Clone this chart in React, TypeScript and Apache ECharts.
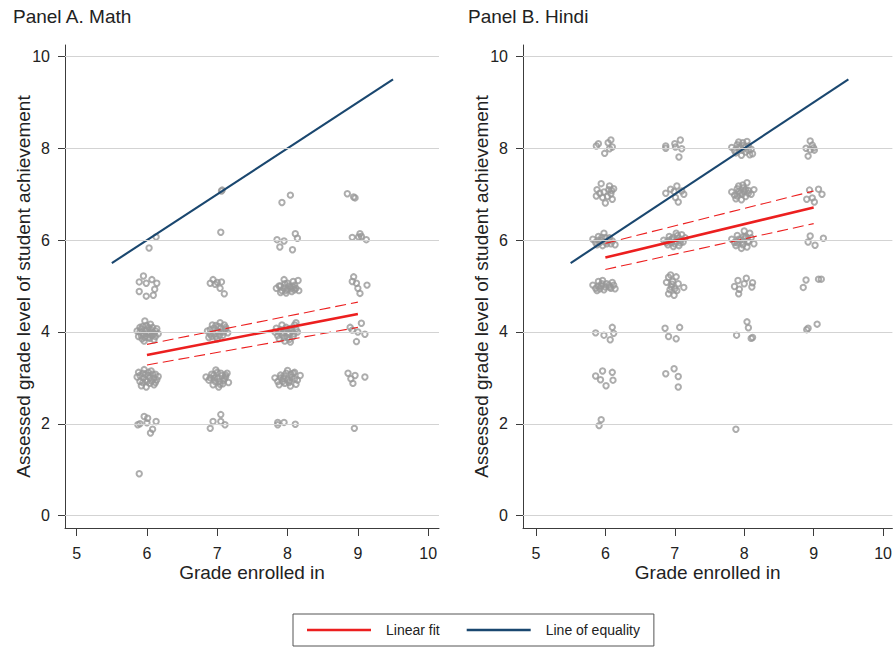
import React, { useEffect, useRef } from "react";
import * as echarts from "echarts";

const FONT = "'Liberation Sans', Arial, Helvetica, sans-serif";

const xTicks = [5, 6, 7, 8, 9, 10];
const yTicks = [0, 2, 4, 6, 8, 10];

// Panel A. Math: [grade enrolled, assessed level]
const mathG6 = [
  [6.03, 5.83], [6.13, 6.07],
  [5.95, 5.22], [5.89, 5.09], [5.99, 5.06], [6.07, 5.14], [6.14, 5.06], [6.11, 4.93], [5.89, 4.88], [5.99, 4.78], [6.09, 4.8],
  [5.97, 4.24], [5.86, 4.02], [5.9, 4.1], [5.95, 3.95], [6.0, 4.05], [6.04, 3.98], [6.08, 4.1], [6.12, 4.02], [6.16, 3.96], [5.88, 3.9],
  [5.93, 3.85], [6.02, 3.88], [6.07, 3.92], [6.1, 3.83], [5.99, 4.14], [6.05, 4.17], [5.92, 4.06], [6.14, 4.07], [5.96, 3.8], [6.03, 3.94],
  [5.9, 4.0], [5.94, 4.12], [5.98, 4.02], [6.02, 4.1], [6.06, 4.04], [6.1, 3.96], [5.92, 3.92], [5.97, 3.88], [6.04, 3.86], [6.12, 3.9],
  [6.0, 3.97], [6.08, 3.98],
  [5.86, 3.02], [5.9, 2.92], [5.94, 3.1], [5.98, 2.95], [6.02, 3.05], [6.06, 3.15], [6.1, 3.0], [6.14, 2.96], [5.92, 2.83], [5.99, 2.8],
  [6.04, 2.88], [6.12, 3.08], [5.96, 3.18], [6.07, 2.93], [6.16, 3.03], [5.88, 3.12],
  [5.9, 3.05], [5.95, 3.0], [6.0, 2.92], [6.04, 3.0], [6.08, 3.08], [6.12, 2.9], [5.94, 2.9], [6.02, 3.12], [6.1, 2.85], [5.98, 3.08],
  [5.96, 2.16], [5.9, 2.0], [5.87, 1.98], [6.01, 2.12], [6.13, 2.05], [6.08, 1.88], [6.05, 1.8], [6.0, 2.02],
  [5.89, 0.91],
];
const mathG7 = [
  [7.06, 7.07], [7.07, 7.09], [7.05, 6.17],
  [6.9, 5.06], [6.94, 5.14], [7.0, 5.08], [7.06, 5.09], [7.04, 4.95], [7.1, 4.83], [6.97, 5.04],
  [6.86, 4.02], [6.9, 3.95], [6.95, 4.08], [6.98, 3.9], [7.02, 4.12], [7.05, 4.0], [7.08, 3.93], [7.12, 4.06], [7.15, 3.98], [6.93, 4.15],
  [7.0, 3.85], [7.1, 4.15], [6.88, 3.88], [7.04, 4.2],
  [6.9, 4.05], [6.95, 3.96], [7.0, 4.02], [7.05, 4.08], [7.09, 4.0], [6.98, 4.14], [7.03, 3.92], [6.92, 3.9], [7.12, 4.1],
  [6.84, 3.02], [6.88, 2.95], [6.92, 3.08], [6.96, 3.0], [7.0, 3.12], [7.03, 2.92], [7.07, 3.05], [7.1, 2.98], [7.14, 3.1], [7.16, 2.9],
  [6.94, 2.85], [7.02, 2.8], [7.08, 2.87], [6.98, 3.17], [7.12, 3.02],
  [6.9, 3.0], [6.95, 3.06], [7.0, 2.98], [7.05, 3.1], [7.09, 2.94], [6.97, 2.92], [7.04, 2.86], [7.12, 3.06],
  [7.05, 2.2], [6.94, 2.05], [6.9, 1.9], [7.05, 2.05], [7.11, 1.98],
];
const mathG8 = [
  [8.04, 6.98], [7.92, 6.82],
  [7.85, 6.01], [7.95, 5.98], [7.89, 5.85], [8.07, 5.79], [8.11, 6.14], [8.14, 6.04],
  [7.84, 4.95], [7.88, 5.0], [7.92, 4.9], [7.96, 5.05], [8.0, 4.93], [8.04, 4.98], [8.08, 5.1], [8.12, 4.95], [8.15, 5.12], [7.9, 4.86],
  [7.98, 4.85], [8.06, 4.88], [8.1, 4.92], [7.95, 5.14], [8.02, 5.0], [8.16, 4.9],
  [7.9, 5.0], [7.95, 4.96], [8.0, 5.06], [8.05, 4.94], [8.1, 5.02], [7.98, 4.9], [8.08, 4.98],
  [7.82, 4.0], [7.86, 3.92], [7.9, 4.05], [7.94, 3.98], [7.98, 4.1], [8.02, 3.95], [8.06, 4.02], [8.1, 4.15], [8.14, 4.0], [7.88, 3.85],
  [7.96, 3.8], [8.0, 3.88], [8.04, 3.78], [8.08, 3.9], [7.92, 4.15], [8.12, 4.2], [7.84, 4.08], [8.02, 4.06],
  [7.88, 4.0], [7.92, 3.94], [7.97, 4.04], [8.01, 3.98], [8.05, 4.08], [8.09, 3.96], [7.95, 3.88], [8.03, 3.84], [8.12, 4.06],
  [7.82, 3.0], [7.86, 2.92], [7.9, 3.06], [7.94, 2.98], [7.98, 3.1], [8.02, 2.9], [8.06, 3.02], [8.1, 3.12], [8.14, 2.95], [8.18, 3.05],
  [7.88, 2.85], [7.96, 2.88], [8.04, 2.82], [8.12, 2.86], [8.0, 3.16],
  [7.9, 3.0], [7.95, 3.04], [8.0, 2.96], [8.05, 3.08], [8.1, 2.98], [7.93, 2.92], [8.03, 2.94], [8.08, 3.1],
  [7.86, 2.03], [7.86, 1.98], [7.95, 2.03], [8.11, 1.99],
];
const mathG9 = [
  [8.85, 7.01], [8.94, 6.94], [8.96, 6.92],
  [8.92, 6.06], [9.03, 6.14], [9.05, 6.08], [9.12, 6.01], [9.01, 6.07],
  [8.94, 5.2], [8.98, 5.06], [9.0, 4.95], [9.03, 4.84], [9.13, 5.02], [8.92, 5.1],
  [8.89, 4.1], [9.05, 4.19], [9.0, 4.0], [9.1, 3.95], [8.98, 3.79], [8.92, 4.04],
  [8.86, 3.1], [8.9, 2.98], [8.93, 2.88], [8.96, 3.05], [9.1, 3.02],
  [8.95, 1.9],
];

// Panel B. Hindi
const hindiG6 = [
  [5.87, 8.05], [5.9, 8.1], [5.99, 7.89], [6.06, 7.99], [6.08, 8.18], [6.1, 8.03], [6.04, 8.12],
  [5.94, 7.23], [5.88, 7.1], [5.87, 6.96], [5.96, 6.93], [6.06, 7.18], [6.09, 7.08], [6.1, 6.89], [6.0, 6.81], [6.08, 7.01], [6.12, 7.12],
  [5.98, 7.05], [6.03, 6.95], [5.92, 7.02], [6.05, 7.1],
  [5.82, 6.02], [5.86, 5.95], [5.9, 6.08], [5.94, 6.0], [5.98, 6.15], [6.02, 5.92], [6.06, 6.05], [6.1, 5.98], [6.14, 5.9], [5.88, 5.9],
  [5.96, 5.88], [6.0, 6.06], [5.9, 6.0], [5.95, 6.06], [6.0, 5.96], [6.05, 6.0], [6.08, 5.92], [5.92, 5.94],
  [5.82, 5.02], [5.86, 4.95], [5.9, 5.1], [5.94, 5.0], [5.98, 4.92], [6.02, 5.05], [6.06, 4.98], [6.1, 5.08], [6.14, 4.94], [5.88, 4.9],
  [5.96, 5.12], [6.12, 5.02], [5.9, 5.0], [5.95, 5.05], [6.0, 4.98], [6.05, 5.02], [6.08, 4.95], [5.92, 4.94],
  [5.86, 3.98], [5.98, 3.93], [6.1, 4.1], [6.12, 3.97], [6.07, 3.83],
  [5.86, 3.04], [5.96, 3.15], [5.93, 2.96], [6.01, 2.83], [6.1, 3.12], [6.11, 2.95],
  [5.94, 2.09], [5.91, 1.96],
];
const hindiG7 = [
  [6.87, 8.05], [6.87, 8.0], [7.01, 8.03], [7.08, 8.18], [7.1, 7.99], [7.06, 7.81], [7.0, 8.1],
  [6.87, 7.02], [6.94, 7.11], [7.03, 7.18], [7.1, 7.07], [7.13, 7.0], [7.01, 6.93], [7.05, 6.83], [6.99, 7.06],
  [6.84, 6.0], [6.88, 5.95], [6.92, 6.08], [6.96, 6.02], [7.0, 5.92], [7.04, 6.1], [7.08, 6.0], [7.12, 5.96], [7.15, 6.05], [6.9, 5.9],
  [6.98, 5.86], [7.06, 5.88], [7.02, 6.15], [7.1, 6.12],
  [6.92, 6.0], [6.97, 6.05], [7.02, 5.98], [7.06, 6.04], [6.95, 5.94], [7.08, 5.94],
  [6.91, 5.19], [6.94, 5.24], [6.88, 5.08], [6.97, 5.1], [7.02, 5.2], [7.05, 5.05], [6.95, 4.98], [7.13, 4.97], [6.99, 4.8], [6.91, 4.83],
  [7.03, 4.9], [6.96, 5.04], [7.0, 4.94], [6.93, 4.92],
  [6.86, 4.08], [7.07, 4.1], [6.91, 3.9], [7.02, 3.85],
  [6.87, 3.09], [6.99, 3.2], [7.05, 3.03], [7.05, 2.8],
];
const hindiG8 = [
  [7.82, 8.02], [7.86, 7.95], [7.9, 8.08], [7.94, 8.0], [7.98, 8.12], [8.02, 7.92], [8.06, 8.05], [8.1, 7.98], [8.12, 7.88], [7.88, 7.9],
  [7.96, 7.85], [8.04, 8.15], [8.08, 7.86], [7.92, 8.14],
  [7.92, 8.02], [7.97, 7.96], [8.02, 8.04], [8.06, 7.96], [7.99, 8.06],
  [7.82, 7.05], [7.86, 6.98], [7.9, 7.12], [7.94, 7.02], [7.98, 7.2], [8.02, 6.95], [8.06, 7.08], [8.1, 7.0], [8.14, 7.1], [7.88, 6.9],
  [7.96, 6.88], [8.04, 7.25], [8.0, 7.06], [7.92, 7.18],
  [7.92, 7.06], [7.97, 7.0], [8.02, 7.1], [8.06, 7.02], [7.99, 7.14], [7.9, 6.96],
  [7.82, 6.02], [7.86, 5.95], [7.9, 6.1], [7.94, 6.0], [7.98, 5.9], [8.02, 6.08], [8.06, 5.98], [8.1, 6.05], [8.14, 5.92], [7.88, 5.88],
  [7.96, 5.82], [8.04, 5.85], [8.0, 6.2], [8.08, 6.15],
  [7.92, 6.02], [7.97, 5.96], [8.02, 6.04], [8.06, 5.96], [7.99, 6.08], [7.9, 5.94],
  [7.91, 5.12], [8.03, 5.17], [8.12, 5.07], [8.11, 4.98], [7.86, 4.99], [7.93, 4.93], [7.92, 4.83], [8.0, 5.05],
  [8.04, 4.22], [8.06, 4.09], [7.89, 3.93], [8.1, 3.86], [8.12, 3.88],
  [7.88, 1.88],
];
const hindiG9 = [
  [8.95, 8.16], [8.89, 8.0], [8.95, 7.97], [9.0, 8.01], [8.92, 7.83], [8.98, 8.07], [9.01, 7.96],
  [8.94, 7.09], [9.07, 7.11], [9.12, 7.0], [8.9, 6.89], [9.01, 6.83], [8.98, 6.92],
  [8.95, 6.09], [8.92, 5.96], [9.02, 5.89], [9.14, 6.04],
  [8.89, 5.13], [8.85, 4.97], [9.07, 5.15], [9.11, 5.15],
  [8.9, 4.05], [8.92, 4.08], [9.05, 4.17],
];

// Linear fits with confidence bounds
const fitGrades = [6, 9];
const mathFit = [3.5, 4.39];
const mathUpper = [3.73, 4.65];
const mathLower = [3.28, 4.1];
const hindiFit = [5.62, 6.71];
const hindiUpper = [5.93, 7.07];
const hindiLower = [5.36, 6.36];
const equalityGrades = [5.5, 9.5];
const equalityLevels = [5.5, 9.5];

const RED = "#ec1f1f";
const NAVY = "#1a476f";
const AXIS = "#3c3c3c";
const TEXT = "#222222";

const pairs = (xs: number[], ys: number[]) => xs.map((x, i) => [x, ys[i]]);

function makeX(gridIndex: number, min: number, max: number) {
  return {
    type: "value",
    gridIndex,
    min,
    max,
    axisLine: { show: true, onZero: false, lineStyle: { color: AXIS, width: 1 } },
    axisTick: { show: true, length: 8, customValues: xTicks, lineStyle: { color: AXIS } },
    axisLabel: { customValues: xTicks, margin: 17, fontSize: 16, color: TEXT, fontFamily: FONT },
    splitLine: { show: false },
    name: "Grade enrolled in",
    nameLocation: "middle",
    nameGap: 35,
    nameMoveOverlap: false,
    nameTextStyle: { fontSize: 19, color: TEXT, fontFamily: FONT },
  };
}

function makeY(gridIndex: number) {
  return {
    type: "value",
    gridIndex,
    min: -0.27,
    max: 10.25,
    axisLine: { show: true, onZero: false, lineStyle: { color: AXIS, width: 1 } },
    axisTick: { show: true, length: 7, customValues: yTicks, lineStyle: { color: AXIS } },
    axisLabel: { customValues: yTicks, margin: 15, fontSize: 16, color: TEXT, fontFamily: FONT },
    splitLine: { show: false },
    name: "Assessed grade level of student achievement",
    nameLocation: "middle",
    nameGap: 32,
    nameMoveOverlap: false,
    nameTextStyle: { fontSize: 19, color: TEXT, fontFamily: FONT },
  };
}

function panelSeries(idx: number, points: number[][], fit: number[], upper: number[], lower: number[]) {
  return [
    {
      type: "line",
      xAxisIndex: idx,
      yAxisIndex: idx,
      data: [],
      z: 0,
      silent: true,
      markLine: {
        silent: true,
        symbol: ["none", "none"],
        label: { show: false },
        lineStyle: { color: "#d3d3d3", width: 1, type: "solid" },
        data: yTicks.map((v) => ({ yAxis: v })),
      },
    },
    {
      type: "scatter",
      xAxisIndex: idx,
      yAxisIndex: idx,
      data: points,
      symbol: "circle",
      symbolSize: 5.4,
      z: 2,
      itemStyle: { color: "rgba(0,0,0,0)", borderColor: "#999999", borderWidth: 2 },
    },
    {
      type: "line",
      xAxisIndex: idx,
      yAxisIndex: idx,
      data: pairs(fitGrades, upper),
      symbol: "none",
      z: 3,
      lineStyle: { color: RED, width: 1.1, type: [11, 5] },
    },
    {
      type: "line",
      xAxisIndex: idx,
      yAxisIndex: idx,
      data: pairs(fitGrades, lower),
      symbol: "none",
      z: 3,
      lineStyle: { color: RED, width: 1.1, type: [11, 5] },
    },
    {
      name: "Linear fit",
      type: "line",
      xAxisIndex: idx,
      yAxisIndex: idx,
      data: pairs(fitGrades, fit),
      symbol: "none",
      z: 4,
      color: RED,
      itemStyle: { color: RED },
      lineStyle: { color: RED, width: 2.6 },
    },
    {
      name: "Line of equality",
      type: "line",
      xAxisIndex: idx,
      yAxisIndex: idx,
      data: pairs(equalityGrades, equalityLevels),
      symbol: "none",
      z: 4,
      color: NAVY,
      itemStyle: { color: NAVY },
      lineStyle: { color: NAVY, width: 2.1 },
    },
  ];
}

export default function App() {
  const ref = useRef<HTMLDivElement>(null);

  useEffect(() => {
    if (!ref.current) return;
    const chart = echarts.init(ref.current, undefined, { renderer: "svg" });
    const mathPoints = [...mathG6, ...mathG7, ...mathG8, ...mathG9];
    const hindiPoints = [...hindiG6, ...hindiG7, ...hindiG8, ...hindiG9];
    const titleStyle = { fontSize: 19, fontWeight: "normal", color: TEXT, fontFamily: FONT };
    chart.setOption({
      animation: false,
      backgroundColor: "#ffffff",
      title: [
        { text: "Panel A. Math", left: 13, top: 7, padding: 0, textStyle: titleStyle },
        { text: "Panel B. Hindi", left: 468, top: 7, padding: 0, textStyle: titleStyle },
      ],
      legend: {
        data: ["Linear fit", "Line of equality"],
        left: 293,
        top: 614,
        icon: "rect",
        itemWidth: 64,
        itemHeight: 2.5,
        itemGap: 27,
        padding: [9, 14, 9, 14],
        borderColor: "#555555",
        borderWidth: 1,
        selectedMode: false,
        textStyle: { fontSize: 14, color: TEXT, fontFamily: FONT, padding: [0, 0, 0, 10] },
      },
      grid: [
        { left: 65, top: 45, width: 374, height: 483 },
        { left: 523, top: 45, width: 372, height: 483 },
      ],
      xAxis: [makeX(0, 4.834, 10.154), makeX(1, 4.814, 10.134)],
      yAxis: [makeY(0), makeY(1)],
      series: [
        ...panelSeries(0, mathPoints, mathFit, mathUpper, mathLower),
        ...panelSeries(1, hindiPoints, hindiFit, hindiUpper, hindiLower),
      ],
    });
    return () => chart.dispose();
  }, []);

  return (
    <div
      ref={ref}
      style={{ position: "absolute", left: 0, top: 0, width: 895, height: 647, background: "#fff" }}
    />
  );
}
